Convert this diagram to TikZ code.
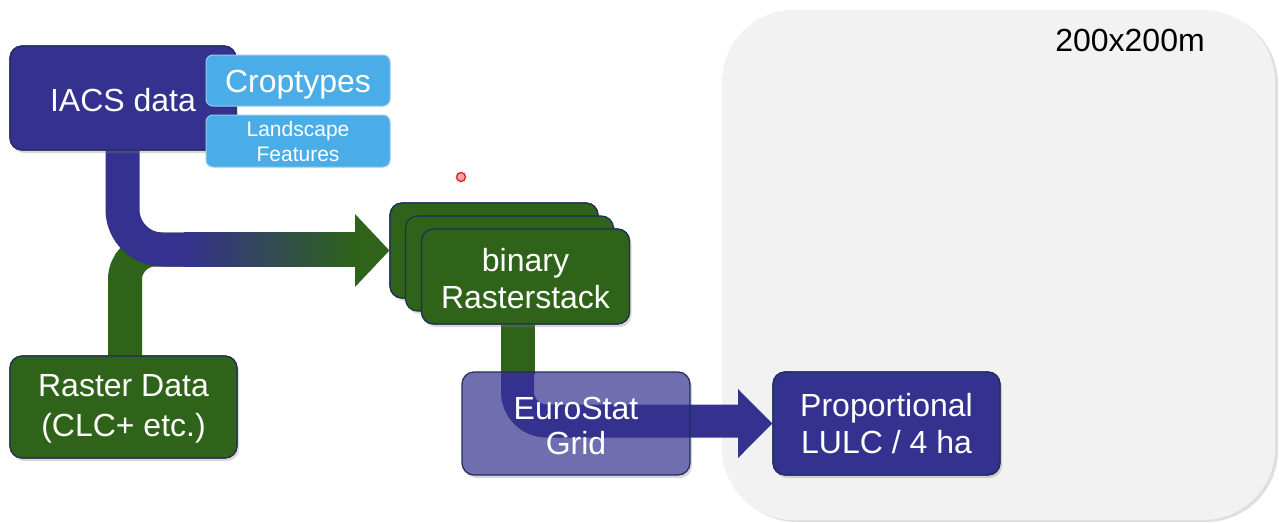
\documentclass[tikz,border=0pt]{standalone}
\usepackage{fontspec}
\setmainfont{Liberation Sans}
\usetikzlibrary{shadows,calc}
\definecolor{navy}{HTML}{35318E}
\definecolor{dgreen}{HTML}{2E6319}
\definecolor{lblue}{HTML}{4BADE8}
\definecolor{lbedge}{HTML}{9CC9E8}
\definecolor{graybg}{HTML}{F2F2F2}
\definecolor{edge}{HTML}{1F2D5A}
\definecolor{ptrred}{HTML}{E0303A}
\begin{document}
\begin{tikzpicture}[x=1pt,y=-1pt,
  box/.style={rounded corners=12pt, draw=edge, line width=1.2pt, inner sep=0pt},
  txt/.style={text=white, align=center, inner sep=0pt, font=\fontsize{32}{37}\selectfont},
  shadowed/.style={drop shadow={shadow xshift=2pt, shadow yshift=-3pt, opacity=0.3}},
  tag/.style={rounded corners=7pt, draw=lbedge, line width=1pt, fill=lblue,
    inner sep=0pt, minimum width=184pt},
  band/.style={line width=34pt},
]
\useasboundingbox (0,0) rectangle (1279,522);
\fill[white] (0,0) rectangle (1279,522);

% grey region
\node[rounded corners=72pt, fill=graybg, minimum width=553pt, minimum height=510pt,
  inner sep=0pt, drop shadow={shadow xshift=3pt, shadow yshift=-2pt, opacity=0.25}]
  (zone) at (998.5,265) {};
\node[font=\fontsize{32}{37}\selectfont, text=black] (zlabel) at (1130,40) {200x200m};

% red pointer
\node[circle, draw=ptrred, fill=ptrred!45, line width=1.5pt, minimum size=9pt, inner sep=0pt]
  (ptr) at (461,177) {};

% nodes whose positions are needed first
\node[box, minimum width=226pt, minimum height=104pt] (iacs) at (123,98) {};
\node[box, minimum width=227pt, minimum height=102pt] (raster) at (123.5,407) {};
\node[box, minimum width=208pt, minimum height=95pt] (stk1) at (494,250.5) {};
\node[box, minimum width=208pt, minimum height=95pt] (stk3) at (525.5,276.5) {};
\node[box, minimum width=227pt, minimum height=103pt] (prop) at (886.5,423.5) {};

% connectors from IACS and Raster to stack
\coordinate (j1) at (185,249.5);
\coordinate (j2) at (230,249.5);
\draw[dgreen, band, rounded corners=30pt] ($(raster.north)+(1.5,5)$) |- (j2);
\draw[navy, band, rounded corners=40pt] ($(iacs.south)+(-0.5,-5)$) |- (j1);
\shade[left color=navy, right color=dgreen] (184,232.5) rectangle (356,266.5);
\fill[dgreen] (355,214) -- (stk1.west) -- (355,287) -- cycle;

% EuroStat backing (opaque, with shadow)
\node[box, fill=white, shadowed, draw=none, minimum width=228pt, minimum height=103pt]
  (eurobg) at (576,423.5) {};

% connector stack -> grid -> proportional
\coordinate (j3) at (740,421);
\draw[dgreen, band] ($(stk3.south)+(-8,-3)$) -- ($(stk3.south)+(-8,50)$);
\draw[navy, line width=33pt, rounded corners=29pt] ($(stk3.south)+(-8,47)$) |- (j3);
\fill[navy] (738,389) -- (prop.west) -- (738,458) -- cycle;

% boxes
\node[box, shadowed, fill=navy, minimum width=226pt, minimum height=104pt] at (iacs) {};
\node[txt] (iacs-t) at ($(iacs)+(0,2)$) {IACS data};
\node[tag, minimum height=51pt] (crop) at (298,80.5) {};
\node[txt] (crop-t) at ($(crop)+(0,4)$) {Croptypes};
\node[tag, minimum height=52pt] (land) at (298,141) {};
\node[txt, font=\fontsize{21}{25}\selectfont] (land-t) at ($(land)+(0,0.5)$) {Landscape\\Features};

\node[box, shadowed, fill=dgreen, minimum width=227pt, minimum height=102pt] at (raster) {};
\node[txt, font=\fontsize{32}{40}\selectfont] (raster-t) at ($(raster)+(0,2)$) {Raster Data\\(CLC+ etc.)};

\node[box, shadowed, fill=dgreen, minimum width=208pt, minimum height=95pt] at (stk1) {};
\node[box, shadowed, fill=dgreen, minimum width=208pt, minimum height=95pt] (stk2) at (509.5,263.5) {};
\node[box, shadowed, fill=dgreen, minimum width=208pt, minimum height=95pt] at (stk3) {};
\node[txt] (stk-t) at ($(stk3)+(0,2.5)$) {binary\\Rasterstack};

\node[box, fill=navy, fill opacity=0.7, minimum width=228pt, minimum height=103pt]
  (euro) at (eurobg) {};
\node[txt, font=\fontsize{32}{35}\selectfont] (euro-t) at ($(euro)+(0,2)$) {EuroStat\\Grid};

\node[box, shadowed, fill=navy, minimum width=227pt, minimum height=103pt] at (prop) {};
\node[txt] (prop-t) at ($(prop)+(0,0.5)$) {Proportional\\LULC / 4 ha};
\end{tikzpicture}
\end{document}
